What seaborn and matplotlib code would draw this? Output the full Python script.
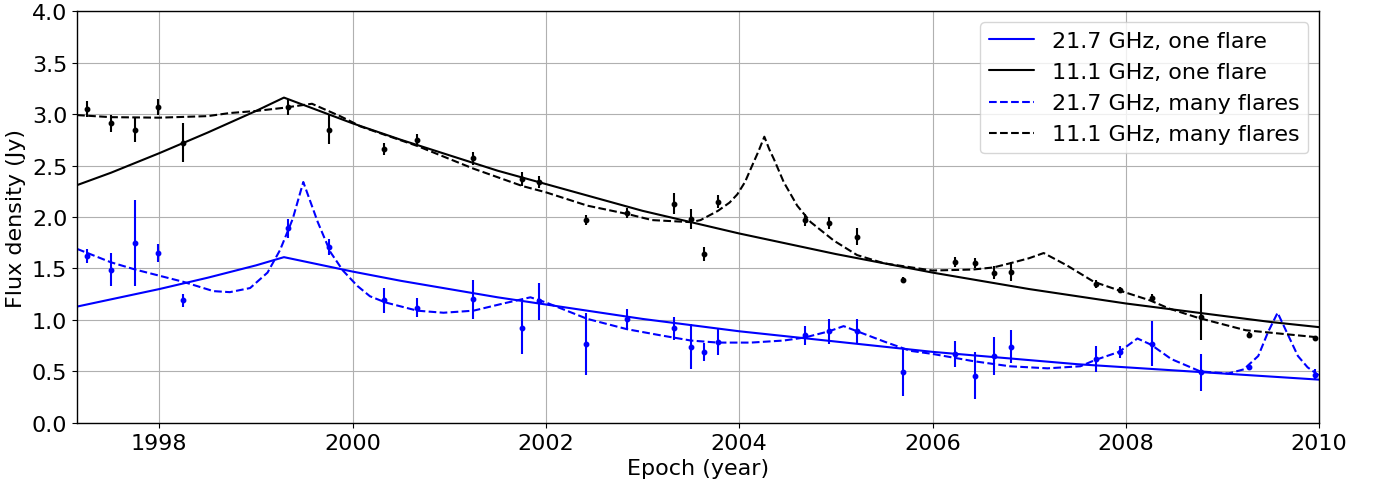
import numpy as np
import pandas as pd
import matplotlib
matplotlib.use("Agg")
import matplotlib.pyplot as plt
import seaborn as sns

# ---- measured flux densities (epoch, Jy, 1-sigma error) ----
epoch_11 = [1997.25, 1997.50, 1997.75, 1997.99, 1998.25, 1999.33, 1999.76, 2000.33,
            2000.67, 2001.25, 2001.75, 2001.93, 2002.42, 2002.84, 2003.33, 2003.50,
            2003.64, 2003.78, 2004.68, 2004.93, 2005.22, 2005.69, 2006.23, 2006.44,
            2006.64, 2006.81, 2007.69, 2007.94, 2008.27, 2008.78, 2009.27, 2009.96]
flux_11 = [3.05, 2.91, 2.85, 3.07, 2.72, 3.07, 2.85, 2.66,
           2.75, 2.57, 2.37, 2.34, 1.97, 2.04, 2.13, 1.98,
           1.64, 2.15, 1.97, 1.94, 1.81, 1.39, 1.56, 1.55,
           1.46, 1.47, 1.35, 1.29, 1.21, 1.03, 0.85, 0.82]
err_11 = [0.08, 0.08, 0.12, 0.08, 0.19, 0.08, 0.14, 0.06,
          0.06, 0.06, 0.07, 0.06, 0.05, 0.05, 0.10, 0.10,
          0.07, 0.06, 0.06, 0.06, 0.08, 0.03, 0.05, 0.05,
          0.06, 0.09, 0.04, 0.03, 0.04, 0.22, 0.03, 0.02]

epoch_21 = epoch_11
flux_21 = [1.62, 1.49, 1.75, 1.65, 1.19, 1.89, 1.71, 1.19,
           1.12, 1.20, 0.92, 1.18, 0.77, 1.01, 0.92, 0.74,
           0.69, 0.79, 0.85, 0.89, 0.89, 0.49, 0.67, 0.46,
           0.65, 0.74, 0.62, 0.69, 0.77, 0.49, 0.54, 0.47]
err_21 = [0.07, 0.16, 0.42, 0.09, 0.06, 0.09, 0.08, 0.12,
          0.09, 0.19, 0.25, 0.18, 0.30, 0.10, 0.11, 0.22,
          0.09, 0.13, 0.09, 0.12, 0.12, 0.23, 0.13, 0.23,
          0.18, 0.16, 0.13, 0.06, 0.22, 0.18, 0.03, 0.05]

# ---- model light curves ----
one_t = [1997.15, 1997.5, 1998.0, 1998.5, 1999.0, 1999.29, 2000.0, 2000.5, 2001.0,
         2001.5, 2002.0, 2002.5, 2003.0, 2003.5, 2004.0, 2004.5, 2005.0, 2005.5,
         2006.0, 2006.5, 2007.0, 2007.5, 2008.0, 2008.5, 2009.0, 2009.5, 2010.0]
one_11 = [2.31, 2.43, 2.62, 2.82, 3.03, 3.16, 2.91, 2.75, 2.60,
          2.45, 2.32, 2.19, 2.06, 1.95, 1.84, 1.74, 1.64, 1.55,
          1.46, 1.38, 1.30, 1.23, 1.16, 1.10, 1.04, 0.98, 0.93]
one_21 = [1.13, 1.20, 1.30, 1.41, 1.53, 1.61, 1.47, 1.38, 1.30,
          1.22, 1.15, 1.08, 1.01, 0.95, 0.89, 0.84, 0.79, 0.74,
          0.69, 0.65, 0.61, 0.57, 0.54, 0.51, 0.48, 0.45, 0.42]

many_t_11 = [1997.15, 1997.5, 1998.0, 1998.5, 1998.73, 1999.0, 1999.28, 1999.58,
             1999.87, 2000.0, 2000.08, 2000.67, 2001.25, 2001.76, 2002.0, 2002.43,
             2002.84, 2003.1, 2003.5, 2003.6, 2003.78, 2003.9, 2003.98, 2004.06,
             2004.12, 2004.2, 2004.26, 2004.31, 2004.36, 2004.46, 2004.6, 2004.74,
             2004.98, 2005.22, 2005.5, 2006.0, 2006.42, 2006.63, 2006.8, 2007.0,
             2007.15, 2007.39, 2007.67, 2007.92, 2008.25, 2008.45, 2008.75, 2009.24,
             2010.0]
many_11 = [2.99, 2.97, 2.965, 2.98, 3.01, 3.03, 3.06, 3.10,
           2.98, 2.92, 2.88, 2.69, 2.47, 2.30, 2.24, 2.11,
           2.03, 1.97, 1.95, 1.97, 2.06, 2.14, 2.22, 2.34,
           2.47, 2.64, 2.78, 2.66, 2.56, 2.34, 2.11, 1.95,
           1.77, 1.63, 1.55, 1.48, 1.49, 1.51, 1.55, 1.60,
           1.65, 1.53, 1.37, 1.29, 1.19, 1.11, 1.02, 0.90,
           0.83]

many_t_21 = [1997.15, 1997.5, 1997.75, 1998.0, 1998.25, 1998.56, 1998.73, 1998.94,
             1999.12, 1999.25, 1999.38, 1999.49, 1999.64, 1999.77, 1999.90, 2000.05,
             2000.18, 2000.34, 2000.67, 2000.94, 2001.25, 2001.56, 2001.84, 2002.0,
             2002.43, 2002.84, 2003.19, 2003.5, 2003.78, 2004.12, 2004.46, 2004.68,
             2004.93, 2005.08, 2005.22, 2005.5, 2005.77, 2006.0, 2006.42, 2006.8,
             2007.19, 2007.53, 2007.68, 2007.93, 2008.12, 2008.26, 2008.47, 2008.77,
             2009.06, 2009.22, 2009.37, 2009.47, 2009.57, 2009.68, 2009.78, 2009.88,
             2010.0]
many_21 = [1.69, 1.56, 1.49, 1.43, 1.37, 1.28, 1.27, 1.31,
           1.46, 1.68, 1.98, 2.34, 1.95, 1.66, 1.48, 1.33,
           1.23, 1.17, 1.09, 1.07, 1.09, 1.16, 1.22, 1.17,
           1.01, 0.91, 0.85, 0.80, 0.78, 0.78, 0.80, 0.83,
           0.89, 0.94, 0.89, 0.79, 0.70, 0.67, 0.60, 0.55,
           0.53, 0.55, 0.61, 0.69, 0.82, 0.76, 0.62, 0.50,
           0.48, 0.52, 0.65, 0.88, 1.07, 0.85, 0.65, 0.54,
           0.46]

x_ticks = [1998, 2000, 2002, 2004, 2006, 2008, 2010]
y_ticks = [0.0, 0.5, 1.0, 1.5, 2.0, 2.5, 3.0, 3.5, 4.0]

sns.set_style("ticks")
plt.rcParams["font.family"] = ["DejaVu Sans"]
plt.rcParams["font.size"] = 16
for key in ("text.color", "axes.labelcolor", "xtick.color", "ytick.color"):
    plt.rcParams[key] = "black"

fig, ax = plt.subplots(figsize=(13.77, 4.85), dpi=100)
fig.subplots_adjust(left=0.056, right=0.958, top=0.975, bottom=0.126)

curves = [
    (one_t, one_21, "blue", "-", "21.7 GHz, one flare"),
    (one_t, one_11, "black", "-", "11.1 GHz, one flare"),
    (many_t_21, many_21, "blue", "--", "21.7 GHz, many flares"),
    (many_t_11, many_11, "black", "--", "11.1 GHz, many flares"),
]
for t, f, col, ls, lab in curves:
    df = pd.DataFrame({"epoch": t, "flux": f})
    sns.lineplot(data=df, x="epoch", y="flux", color=col, linestyle=ls, lw=1.5,
                 label=lab, sort=False, estimator=None, ax=ax)

ax.errorbar(epoch_11, flux_11, yerr=err_11, fmt="o", color="black", ms=3.2,
            elinewidth=1.5, capsize=0, zorder=3)
ax.errorbar(epoch_21, flux_21, yerr=err_21, fmt="o", color="blue", ms=3.2,
            elinewidth=1.5, capsize=0, zorder=3)

ax.set_xlim(1997.15, 2010.0)
ax.set_ylim(0, 4.0)
ax.set_xticks(x_ticks)
ax.set_yticks(y_ticks)
ax.set_xlabel("Epoch (year)", fontsize=16)
ax.set_ylabel("Flux density (Jy)", fontsize=16)
ax.tick_params(labelsize=16, direction="out", length=3.5, width=0.8, colors="black")
ax.grid(True, color="#b0b0b0", lw=0.8)
for s in ax.spines.values():
    s.set_color("black")
    s.set_linewidth(1.0)

ax.legend(loc="upper right", fontsize=16, handlelength=2.0, frameon=True,
          framealpha=0.8, edgecolor="#cccccc", fancybox=True)

fig.savefig("out.png", dpi=100)
